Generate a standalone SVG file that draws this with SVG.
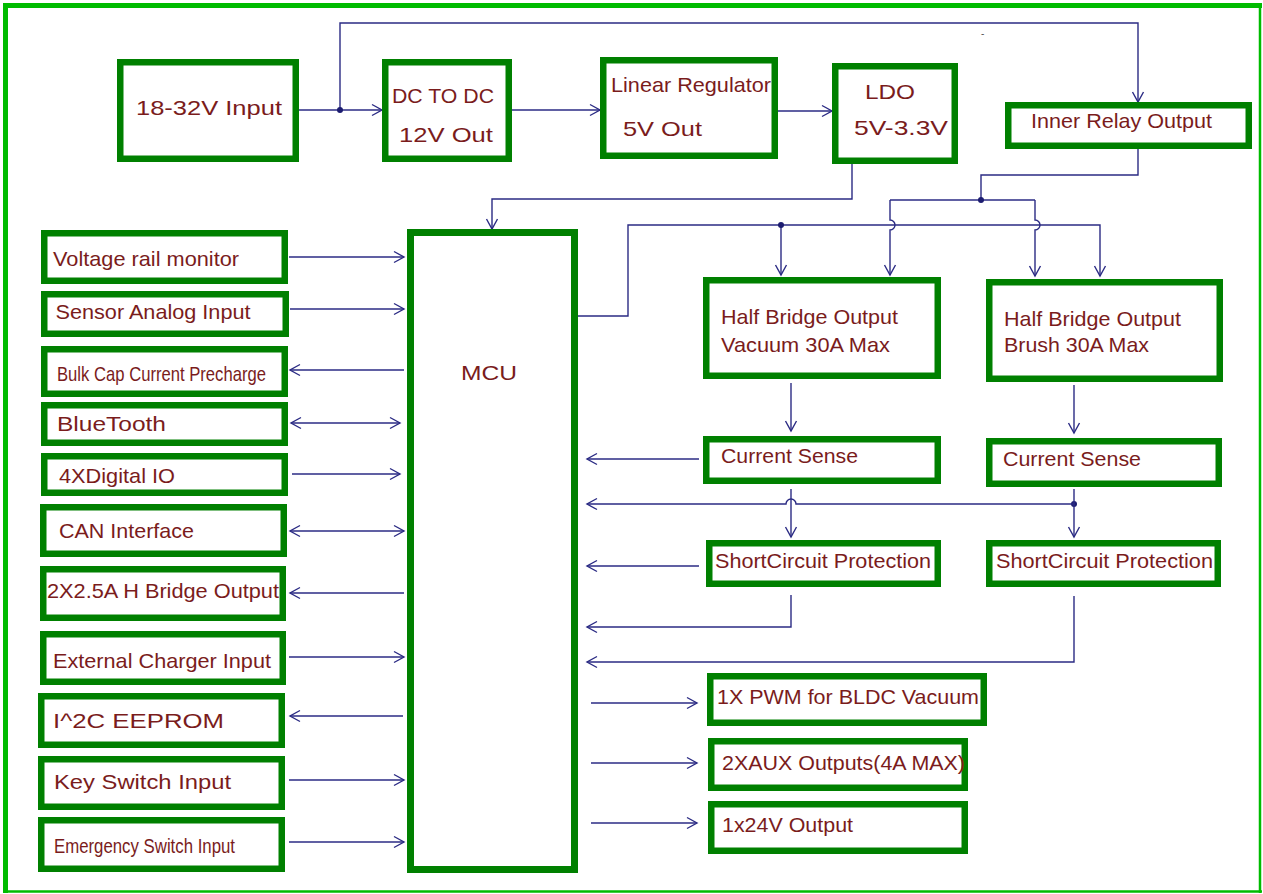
<svg xmlns="http://www.w3.org/2000/svg" width="1263" height="894" viewBox="0 0 1263 894">
<style>
  .box{fill:#fff;stroke:#008000;stroke-width:6.5}
  .mcu{fill:#fff;stroke:#008000;stroke-width:7}
  .t{font-family:"Liberation Sans",Arial,sans-serif;font-size:21px;fill:#7a1c1c}
  .w{fill:none;stroke:#2b2b84;stroke-width:1.4}
  .a{marker-end:url(#ah)}
  .d{marker-end:url(#ah);marker-start:url(#ah)}
  .frame{stroke:#00bb00;fill:none}
</style>
<defs>
  <marker id="ah" markerUnits="userSpaceOnUse" markerWidth="12" markerHeight="12" refX="10" refY="5.5" orient="auto-start-reverse" overflow="visible">
    <path d="M0,0 L10,5.5 L0,11" fill="none" stroke="#2b2b84" stroke-width="1.4"/>
  </marker>
</defs>
<rect x="0" y="0" width="1263" height="894" fill="#fff"/>
<g id="frame">
  <line class="frame" x1="3" y1="5.5" x2="1262" y2="5.5" stroke-width="5"/>
  <line class="frame" x1="5.5" y1="3" x2="5.5" y2="893" stroke-width="5"/>
  <line class="frame" x1="1260" y1="3" x2="1260" y2="893" stroke-width="2.5"/>
  <line class="frame" x1="3" y1="891.5" x2="1262" y2="891.5" stroke-width="2.5"/>
</g>

<g id="connectors">
  <path class="w a" d="M299,110 H382"/>
  <path class="w a" d="M340,110 V23 H1138 V102"/>
  <path class="w a" d="M512,110 H600"/>
  <path class="w a" d="M778,111 H832"/>
  <path class="w a" d="M852,164 V199 H492 V229"/>
  <path class="w" d="M1138,149 V175 H981 V200"/>
  <path class="w" d="M890,200 H1035"/>
  <path class="w a" d="M890,200 V220 A5,5 0 0 1 890,230 V275"/>
  <path class="w a" d="M1035,200 V220 A5,5 0 0 1 1035,230 V276"/>
  <path class="w a" d="M578,316 H628 V225 H1100 V276"/>
  <path class="w a" d="M781,225 V275"/>
  <circle cx="340" cy="110" r="3" fill="#1c1c70"/>
  <circle cx="981" cy="200" r="3" fill="#1c1c70"/>
  <circle cx="781" cy="225" r="3" fill="#1c1c70"/>
  <circle cx="1074" cy="504" r="3" fill="#1c1c70"/>

  <path class="w a" d="M289,257 H404"/>
  <path class="w a" d="M290,309 H404"/>
  <path class="w a" d="M404,370 H290"/>
  <path class="w d" d="M291,423 H400"/>
  <path class="w a" d="M292,474 H400"/>
  <path class="w d" d="M290,531 H404"/>
  <path class="w a" d="M404,593 H290"/>
  <path class="w a" d="M289,657 H404"/>
  <path class="w a" d="M403,716 H290"/>
  <path class="w a" d="M289,780 H404"/>
  <path class="w a" d="M289,842 H404"/>

  <path class="w a" d="M791,383 V431"/>
  <path class="w a" d="M1074,385 V433"/>
  <path class="w a" d="M699,459 H587"/>
  <path class="w a" d="M791,489 V537"/>
  <path class="w a" d="M1074,489 V537"/>
  <path class="w a" d="M1074,504 H796 A5,5 0 0 0 786,504 H587"/>
  <path class="w a" d="M699,566 H587"/>
  <path class="w a" d="M791,595 V627 H587"/>
  <path class="w a" d="M1074,596 V662 H587"/>
  <path class="w a" d="M591,703 H697"/>
  <path class="w a" d="M591,763 H697"/>
  <path class="w a" d="M591,823 H697"/>
</g>

<text x="981" y="37" font-family="Liberation Sans, sans-serif" font-size="10" fill="#555">-</text>

<g id="n-input"><rect class="box" x="120.25" y="62.25" width="175.5" height="96.5"/><text class="t" x="136" y="115" font-size="25" textLength="146" lengthAdjust="spacingAndGlyphs">18-32V Input</text></g>
<g id="n-dcdc"><rect class="box" x="385.25" y="62.25" width="123.5" height="96.5"/><text class="t" x="392" y="103" textLength="102" lengthAdjust="spacingAndGlyphs">DC TO DC</text><text class="t" x="399" y="142" font-size="25" textLength="94" lengthAdjust="spacingAndGlyphs">12V Out</text></g>
<g id="n-linear"><rect class="box" x="603.25" y="60.25" width="171.5" height="95.5"/><text class="t" x="611" y="92" textLength="160" lengthAdjust="spacingAndGlyphs">Linear Regulator</text><text class="t" x="623" y="136" font-size="25" textLength="79" lengthAdjust="spacingAndGlyphs">5V Out</text></g>
<g id="n-ldo"><rect class="box" x="835.25" y="66.25" width="119.5" height="94.5"/><text class="t" x="865" y="99" font-size="24" textLength="50" lengthAdjust="spacingAndGlyphs">LDO</text><text class="t" x="854" y="135" font-size="25" textLength="94" lengthAdjust="spacingAndGlyphs">5V-3.3V</text></g>
<g id="n-relay"><rect class="box" x="1008.25" y="105.25" width="240.5" height="40.5"/><text class="t" x="1031" y="128" textLength="181" lengthAdjust="spacingAndGlyphs">Inner Relay Output</text></g>

<g id="n-mcu"><rect class="mcu" x="410.5" y="232.5" width="164" height="637"/><text class="t" x="461" y="380" font-size="25" textLength="56" lengthAdjust="spacingAndGlyphs">MCU</text></g>

<g id="n-vrail"><rect class="box" x="44.25" y="233.25" width="240.5" height="47.5"/><text class="t" x="53" y="266" textLength="186" lengthAdjust="spacingAndGlyphs">Voltage rail monitor</text></g>
<g id="n-sensor"><rect class="box" x="44.25" y="294.25" width="241.5" height="39.5"/><text class="t" x="55.5" y="319" textLength="195" lengthAdjust="spacingAndGlyphs">Sensor Analog Input</text></g>
<g id="n-bulk"><rect class="box" x="44.25" y="349.25" width="240.5" height="44.5"/><text class="t" x="57" y="381" font-size="16" textLength="209" lengthAdjust="spacingAndGlyphs">Bulk Cap Current Precharge</text></g>
<g id="n-bt"><rect class="box" x="44.25" y="405.25" width="240.5" height="37.5"/><text class="t" x="57" y="431" font-size="23" textLength="109" lengthAdjust="spacingAndGlyphs">BlueTooth</text></g>
<g id="n-dio"><rect class="box" x="44.25" y="456.25" width="240.5" height="36.5"/><text class="t" x="59" y="483" textLength="116" lengthAdjust="spacingAndGlyphs">4XDigital IO</text></g>
<g id="n-can"><rect class="box" x="43.25" y="507.25" width="240.5" height="46.5"/><text class="t" x="59" y="538" textLength="135" lengthAdjust="spacingAndGlyphs">CAN Interface</text></g>
<g id="n-hbridge"><rect class="box" x="43.25" y="569.25" width="239.5" height="48.5"/><text class="t" x="47" y="598" textLength="232" lengthAdjust="spacingAndGlyphs">2X2.5A H Bridge Output</text></g>
<g id="n-charger"><rect class="box" x="43.25" y="634.25" width="239.5" height="47.5"/><text class="t" x="53" y="668" textLength="218" lengthAdjust="spacingAndGlyphs">External Charger Input</text></g>
<g id="n-eeprom"><rect class="box" x="41.25" y="696.25" width="240.5" height="48.5"/><text class="t" x="53" y="728" font-size="25" textLength="171" lengthAdjust="spacingAndGlyphs">I^2C EEPROM</text></g>
<g id="n-key"><rect class="box" x="41.25" y="759.25" width="240.5" height="47.5"/><text class="t" x="54" y="789" font-size="23" textLength="177" lengthAdjust="spacingAndGlyphs">Key Switch Input</text></g>
<g id="n-emerg"><rect class="box" x="41.25" y="820.25" width="240.5" height="48.5"/><text class="t" x="54" y="853" font-size="16" textLength="181" lengthAdjust="spacingAndGlyphs">Emergency Switch Input</text></g>

<g id="n-hb-vac"><rect class="box" x="706.25" y="280.25" width="231.5" height="95.5"/><text class="t" x="721" y="324" textLength="177" lengthAdjust="spacingAndGlyphs">Half Bridge Output</text><text class="t" x="721" y="352" textLength="169" lengthAdjust="spacingAndGlyphs">Vacuum 30A Max</text></g>
<g id="n-hb-brush"><rect class="box" x="989.25" y="282.25" width="230.5" height="96.5"/><text class="t" x="1004" y="326" textLength="177" lengthAdjust="spacingAndGlyphs">Half Bridge Output</text><text class="t" x="1004" y="352" textLength="145" lengthAdjust="spacingAndGlyphs">Brush 30A Max</text></g>
<g id="n-cs-vac"><rect class="box" x="706.25" y="439.25" width="231.5" height="41.5"/><text class="t" x="721" y="463" textLength="137" lengthAdjust="spacingAndGlyphs">Current Sense</text></g>
<g id="n-cs-brush"><rect class="box" x="989.25" y="441.25" width="229.5" height="42.5"/><text class="t" x="1003" y="466" textLength="138" lengthAdjust="spacingAndGlyphs">Current Sense</text></g>
<g id="n-sc-vac"><rect class="box" x="709.25" y="543.25" width="228.5" height="40.5"/><text class="t" x="715" y="568" textLength="216" lengthAdjust="spacingAndGlyphs">ShortCircuit Protection</text></g>
<g id="n-sc-brush"><rect class="box" x="989.25" y="543.25" width="228.5" height="40.5"/><text class="t" x="996" y="568" textLength="217" lengthAdjust="spacingAndGlyphs">ShortCircuit Protection</text></g>
<g id="n-pwm"><rect class="box" x="710.25" y="676.25" width="273.5" height="46.5"/><text class="t" x="717" y="704" textLength="262" lengthAdjust="spacingAndGlyphs">1X PWM for BLDC Vacuum</text></g>
<g id="n-aux"><rect class="box" x="711.25" y="741.25" width="253.5" height="46.5"/><text class="t" x="722" y="770" textLength="243" lengthAdjust="spacingAndGlyphs">2XAUX Outputs(4A MAX)</text></g>
<g id="n-24v"><rect class="box" x="711.25" y="804.25" width="253.5" height="46.5"/><text class="t" x="722" y="832" textLength="131" lengthAdjust="spacingAndGlyphs">1x24V Output</text></g>
</svg>
